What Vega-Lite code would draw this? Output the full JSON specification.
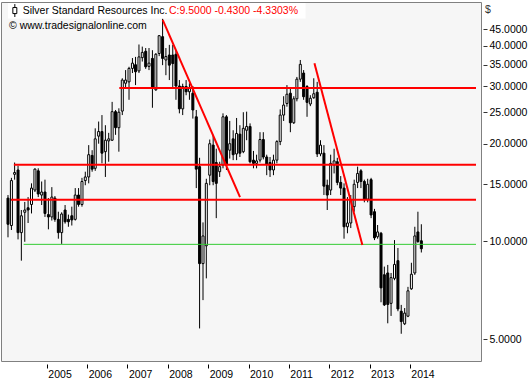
{
  "$schema": "https://vega.github.io/schema/vega-lite/v6.json",
  "width": 480,
  "height": 359,
  "autosize": {"type": "none"},
  "padding": {"left": 1, "top": 2, "right": 49, "bottom": 18},
  "background": "#ffffff",
  "config": {"view": {"fill": "#f6f6f6", "stroke": "#808080", "strokeWidth": 1}},
  "datasets": {
    "ohlc": [
      {"date": "2004-01-15", "open": 13.6, "high": 13.9, "low": 10.3, "close": 11.3},
      {"date": "2004-02-15", "open": 11.2, "high": 15.7, "low": 10.85, "close": 15.4},
      {"date": "2004-03-15", "open": 16.1, "high": 17.5, "low": 15.5, "close": 16.3},
      {"date": "2004-04-15", "open": 16.6, "high": 17.1, "low": 10.15, "close": 10.65},
      {"date": "2004-05-15", "open": 10.65, "high": 12.5, "low": 8.73, "close": 12.0},
      {"date": "2004-06-15", "open": 12.3, "high": 13.24, "low": 9.98, "close": 12.5},
      {"date": "2004-07-15", "open": 12.7, "high": 13.7, "low": 11.4, "close": 12.5},
      {"date": "2004-08-15", "open": 13.0, "high": 15.1, "low": 12.2, "close": 14.6},
      {"date": "2004-09-15", "open": 14.4, "high": 16.8, "low": 14.2, "close": 16.7},
      {"date": "2004-10-15", "open": 16.5, "high": 16.8, "low": 13.7, "close": 14.0},
      {"date": "2004-11-15", "open": 13.9, "high": 15.3, "low": 12.95, "close": 14.2},
      {"date": "2004-12-15", "open": 14.2, "high": 15.5, "low": 11.9, "close": 12.2},
      {"date": "2005-01-15", "open": 12.1, "high": 13.6, "low": 10.9, "close": 11.9},
      {"date": "2005-02-15", "open": 11.9, "high": 14.7, "low": 11.6, "close": 13.7},
      {"date": "2005-03-15", "open": 13.6, "high": 13.8, "low": 11.5, "close": 11.7},
      {"date": "2005-04-15", "open": 11.7, "high": 12.35, "low": 10.2, "close": 10.65},
      {"date": "2005-05-15", "open": 10.65, "high": 12.3, "low": 9.83, "close": 12.15},
      {"date": "2005-06-15", "open": 12.5, "high": 12.95, "low": 11.35, "close": 11.5},
      {"date": "2005-07-15", "open": 11.7, "high": 12.1, "low": 11.1, "close": 11.5},
      {"date": "2005-08-15", "open": 12.0, "high": 12.8, "low": 11.2, "close": 11.65},
      {"date": "2005-09-15", "open": 11.7, "high": 14.6, "low": 11.6, "close": 13.9},
      {"date": "2005-10-15", "open": 13.9, "high": 14.6, "low": 12.8, "close": 13.0},
      {"date": "2005-11-15", "open": 13.0, "high": 15.7, "low": 12.8, "close": 15.3},
      {"date": "2005-12-15", "open": 15.4, "high": 16.4, "low": 14.9, "close": 15.8},
      {"date": "2006-01-15", "open": 15.8, "high": 19.8, "low": 15.1, "close": 18.5},
      {"date": "2006-02-15", "open": 18.4, "high": 19.1, "low": 16.4, "close": 16.7},
      {"date": "2006-03-15", "open": 16.8, "high": 22.3, "low": 16.5, "close": 20.7},
      {"date": "2006-04-15", "open": 21.1, "high": 23.4, "low": 20.0, "close": 21.8},
      {"date": "2006-05-15", "open": 21.8, "high": 24.5, "low": 17.4, "close": 18.7},
      {"date": "2006-06-15", "open": 18.9, "high": 22.8, "low": 15.8, "close": 20.5},
      {"date": "2006-07-15", "open": 20.4, "high": 21.6, "low": 17.6, "close": 20.7},
      {"date": "2006-08-15", "open": 20.5, "high": 26.9, "low": 20.4, "close": 25.1},
      {"date": "2006-09-15", "open": 25.1, "high": 25.4, "low": 21.3, "close": 22.4},
      {"date": "2006-10-15", "open": 22.4, "high": 25.7, "low": 18.9, "close": 25.0},
      {"date": "2006-11-15", "open": 25.2, "high": 31.8, "low": 24.5, "close": 31.4},
      {"date": "2006-12-15", "open": 30.7, "high": 33.7, "low": 29.6, "close": 31.4},
      {"date": "2007-01-15", "open": 31.0, "high": 34.5, "low": 27.3, "close": 34.1},
      {"date": "2007-02-15", "open": 34.1, "high": 36.7, "low": 33.0, "close": 35.4},
      {"date": "2007-03-15", "open": 35.0, "high": 37.0, "low": 30.3, "close": 33.3},
      {"date": "2007-04-15", "open": 33.5, "high": 40.4, "low": 33.0, "close": 37.0},
      {"date": "2007-05-15", "open": 36.8, "high": 39.8, "low": 35.8, "close": 38.2},
      {"date": "2007-06-15", "open": 38.5, "high": 39.4, "low": 34.0, "close": 34.5},
      {"date": "2007-07-15", "open": 34.6, "high": 39.4, "low": 33.7, "close": 35.4},
      {"date": "2007-08-15", "open": 36.6, "high": 38.8, "low": 25.8, "close": 29.6},
      {"date": "2007-09-15", "open": 29.3, "high": 38.0, "low": 29.1, "close": 37.7},
      {"date": "2007-10-15", "open": 37.9, "high": 43.2, "low": 37.2, "close": 43.0},
      {"date": "2007-11-15", "open": 42.7, "high": 48.5, "low": 34.9, "close": 36.6},
      {"date": "2007-12-15", "open": 36.2, "high": 39.4, "low": 32.5, "close": 37.1},
      {"date": "2008-01-15", "open": 37.5, "high": 40.3, "low": 31.4, "close": 34.9},
      {"date": "2008-02-15", "open": 37.5, "high": 40.3, "low": 29.9, "close": 35.3},
      {"date": "2008-03-15", "open": 37.7, "high": 38.8, "low": 27.3, "close": 30.1},
      {"date": "2008-04-15", "open": 30.1, "high": 31.4, "low": 24.8, "close": 25.6},
      {"date": "2008-05-15", "open": 25.6, "high": 30.6, "low": 24.5, "close": 30.0},
      {"date": "2008-06-15", "open": 30.0, "high": 31.4, "low": 28.2, "close": 28.9},
      {"date": "2008-07-15", "open": 28.9, "high": 30.7, "low": 27.3, "close": 29.6},
      {"date": "2008-08-15", "open": 28.6, "high": 30.1, "low": 23.9, "close": 25.4},
      {"date": "2008-09-15", "open": 24.2, "high": 25.4, "low": 14.6, "close": 16.7},
      {"date": "2008-10-15", "open": 17.0, "high": 18.1, "low": 5.4, "close": 8.55},
      {"date": "2008-11-15", "open": 8.55, "high": 11.45, "low": 6.6, "close": 10.4},
      {"date": "2008-12-15", "open": 9.7, "high": 15.6, "low": 7.7, "close": 15.1},
      {"date": "2009-01-15", "open": 16.0, "high": 20.6, "low": 14.9, "close": 20.0},
      {"date": "2009-02-15", "open": 19.8, "high": 21.3, "low": 14.9, "close": 15.3},
      {"date": "2009-03-15", "open": 17.5, "high": 19.3, "low": 11.8, "close": 15.1},
      {"date": "2009-04-15", "open": 16.4, "high": 17.6, "low": 15.8, "close": 17.0},
      {"date": "2009-05-15", "open": 17.2, "high": 24.8, "low": 16.8, "close": 24.2},
      {"date": "2009-06-15", "open": 24.2, "high": 24.5, "low": 16.6, "close": 17.2},
      {"date": "2009-07-15", "open": 19.1, "high": 23.5, "low": 18.0, "close": 20.0},
      {"date": "2009-08-15", "open": 20.7, "high": 22.0, "low": 17.8, "close": 18.5},
      {"date": "2009-09-15", "open": 18.6, "high": 24.0, "low": 17.8, "close": 21.5},
      {"date": "2009-10-15", "open": 21.4, "high": 22.8, "low": 18.2, "close": 18.7},
      {"date": "2009-11-15", "open": 18.9, "high": 25.0, "low": 18.7, "close": 22.3},
      {"date": "2009-12-15", "open": 22.0, "high": 25.1, "low": 20.5, "close": 22.6},
      {"date": "2010-01-15", "open": 22.6, "high": 23.1, "low": 17.4, "close": 17.6},
      {"date": "2010-02-15", "open": 17.8, "high": 19.0, "low": 16.8, "close": 17.4},
      {"date": "2010-03-15", "open": 17.4, "high": 18.5, "low": 16.8, "close": 17.7},
      {"date": "2010-04-15", "open": 17.8, "high": 21.7, "low": 17.5, "close": 20.6},
      {"date": "2010-05-15", "open": 20.6, "high": 21.7, "low": 17.9, "close": 18.2},
      {"date": "2010-06-15", "open": 18.2, "high": 18.5, "low": 16.0, "close": 17.3},
      {"date": "2010-07-15", "open": 17.5, "high": 18.2, "low": 15.8, "close": 16.6},
      {"date": "2010-08-15", "open": 16.6, "high": 18.5, "low": 16.0, "close": 17.8},
      {"date": "2010-09-15", "open": 17.8, "high": 20.5, "low": 17.4, "close": 20.3},
      {"date": "2010-10-15", "open": 20.3, "high": 25.5, "low": 19.8, "close": 24.5},
      {"date": "2010-11-15", "open": 24.5, "high": 28.0, "low": 23.5, "close": 26.3},
      {"date": "2010-12-15", "open": 26.6, "high": 30.3, "low": 26.0, "close": 28.4},
      {"date": "2011-01-15", "open": 28.6, "high": 29.7, "low": 21.7, "close": 23.2},
      {"date": "2011-02-15", "open": 23.2, "high": 28.0, "low": 23.0, "close": 27.5},
      {"date": "2011-03-15", "open": 27.5, "high": 32.1, "low": 27.0, "close": 31.6},
      {"date": "2011-04-15", "open": 31.6, "high": 36.2, "low": 31.0, "close": 35.1},
      {"date": "2011-05-15", "open": 33.0, "high": 33.7, "low": 27.3, "close": 27.9},
      {"date": "2011-06-15", "open": 30.0, "high": 30.3, "low": 24.2, "close": 26.8},
      {"date": "2011-07-15", "open": 26.5, "high": 28.2, "low": 26.1, "close": 27.6},
      {"date": "2011-08-15", "open": 27.7, "high": 31.8, "low": 27.5, "close": 28.5},
      {"date": "2011-09-15", "open": 28.8, "high": 31.0, "low": 18.2, "close": 18.6},
      {"date": "2011-10-15", "open": 18.6, "high": 20.5, "low": 18.3, "close": 19.8},
      {"date": "2011-11-15", "open": 18.7, "high": 19.8, "low": 13.9, "close": 14.8},
      {"date": "2011-12-15", "open": 14.9, "high": 15.5, "low": 12.5, "close": 13.9},
      {"date": "2012-01-15", "open": 14.4, "high": 18.5, "low": 13.9, "close": 17.4},
      {"date": "2012-02-15", "open": 17.2, "high": 19.3, "low": 16.2, "close": 17.7},
      {"date": "2012-03-15", "open": 17.6, "high": 18.1, "low": 14.9, "close": 15.2},
      {"date": "2012-04-15", "open": 15.2, "high": 15.9, "low": 13.9, "close": 14.6},
      {"date": "2012-05-15", "open": 14.6, "high": 15.1, "low": 10.2, "close": 11.1},
      {"date": "2012-06-15", "open": 11.1, "high": 13.7, "low": 10.6, "close": 11.4},
      {"date": "2012-07-15", "open": 11.4, "high": 13.9, "low": 11.0, "close": 13.4},
      {"date": "2012-08-15", "open": 12.8, "high": 15.5, "low": 12.35, "close": 15.0},
      {"date": "2012-09-15", "open": 15.2, "high": 17.0, "low": 14.6, "close": 16.2},
      {"date": "2012-10-15", "open": 16.5, "high": 16.7, "low": 14.6, "close": 15.3},
      {"date": "2012-11-15", "open": 15.3, "high": 15.5, "low": 13.2, "close": 13.5},
      {"date": "2012-12-15", "open": 13.5, "high": 15.6, "low": 13.2, "close": 15.0},
      {"date": "2013-01-15", "open": 15.5, "high": 15.7, "low": 11.8, "close": 12.07},
      {"date": "2013-02-15", "open": 12.35, "high": 12.6, "low": 10.1, "close": 10.26},
      {"date": "2013-03-15", "open": 10.34, "high": 11.24, "low": 10.2, "close": 10.7},
      {"date": "2013-04-15", "open": 10.6, "high": 10.7, "low": 6.5, "close": 7.2},
      {"date": "2013-05-15", "open": 7.9, "high": 8.37, "low": 6.33, "close": 6.38},
      {"date": "2013-06-15", "open": 8.0, "high": 8.47, "low": 5.6, "close": 6.4},
      {"date": "2013-07-15", "open": 6.45, "high": 8.0, "low": 5.9, "close": 7.74},
      {"date": "2013-08-15", "open": 7.7, "high": 10.1, "low": 7.6, "close": 8.5},
      {"date": "2013-09-15", "open": 8.73, "high": 9.55, "low": 6.1, "close": 6.2},
      {"date": "2013-10-15", "open": 6.1, "high": 6.38, "low": 5.2, "close": 5.67},
      {"date": "2013-11-15", "open": 5.58, "high": 6.24, "low": 5.53, "close": 6.02},
      {"date": "2013-12-15", "open": 5.89, "high": 7.25, "low": 5.85, "close": 7.05},
      {"date": "2014-01-15", "open": 7.15, "high": 8.6, "low": 7.1, "close": 7.93},
      {"date": "2014-02-15", "open": 8.0, "high": 11.1, "low": 7.89, "close": 10.4},
      {"date": "2014-03-15", "open": 10.7, "high": 12.35, "low": 9.9, "close": 10.0},
      {"date": "2014-04-15", "open": 10.05, "high": 11.3, "low": 9.25, "close": 9.5}
    ],
    "resistance": [
      {"price": 29.68, "start": "2006-10-19", "end": "2015-08-23"},
      {"price": 17.23, "start": "2004-03-08", "end": "2015-08-23"},
      {"price": 13.45, "start": "2004-02-11", "end": "2015-08-23"}
    ],
    "support": [
      {"price": 9.8, "start": "2004-06-05", "end": "2015-08-23"}
    ],
    "trend": [
      {"id": 1, "date": "2007-11-16", "price": 48.1},
      {"id": 1, "date": "2009-10-16", "price": 13.7},
      {"id": 2, "date": "2011-08-21", "price": 35.4},
      {"id": 2, "date": "2012-10-28", "price": 9.75}
    ]
  },
  "layer": [
    {
      "data": {"name": "ohlc"},
      "mark": {"type": "rule", "color": "#000000", "strokeWidth": 1},
      "encoding": {
        "x": {
          "field": "date", "type": "temporal", "title": null,
          "scale": {"type": "utc", "domain": [{"year": 2003, "month": 12, "date": 28, "utc": true}, {"year": 2015, "month": 8, "date": 23, "utc": true}], "nice": false},
          "axis": {
            "values": [
              {"year": 2005, "month": 1, "date": 1, "utc": true},
              {"year": 2006, "month": 1, "date": 1, "utc": true},
              {"year": 2007, "month": 1, "date": 1, "utc": true},
              {"year": 2008, "month": 1, "date": 1, "utc": true},
              {"year": 2009, "month": 1, "date": 1, "utc": true},
              {"year": 2010, "month": 1, "date": 1, "utc": true},
              {"year": 2011, "month": 1, "date": 1, "utc": true},
              {"year": 2012, "month": 1, "date": 1, "utc": true},
              {"year": 2013, "month": 1, "date": 1, "utc": true},
              {"year": 2014, "month": 1, "date": 1, "utc": true}
            ],
            "format": "%Y", "title": null, "domain": false, "grid": false,
            "ticks": true, "tickSize": 4, "tickColor": "#000000", "offset": 3,
            "labelAlign": "left", "labelBaseline": "top", "labelPadding": 1, "labelOffset": 1,
            "labelFont": "Liberation Sans", "labelFontSize": 10.5, "labelColor": "#000000",
            "labelFlush": false, "labelOverlap": false
          }
        },
        "y": {
          "field": "low", "type": "quantitative", "title": "$",
          "scale": {"type": "log", "domain": [4.287, 54.6], "nice": false, "zero": false},
          "axis": {
            "orient": "right", "values": [5, 10, 15, 20, 25, 30, 35, 40, 45], "format": ".4f",
            "title": "$", "titleAngle": 0, "titleX": 4.5, "titleY": 7, "titleAlign": "center", "titleBaseline": "middle",
            "titleFont": "Liberation Sans", "titleFontSize": 10.5, "titleFontWeight": "normal", "titleColor": "#333333",
            "domain": false, "grid": false, "tickSize": 4, "tickColor": "#333333", "offset": 2,
            "labelPadding": 2, "labelFont": "Liberation Sans", "labelFontSize": 10.5, "labelColor": "#000000",
            "labelBaseline": "middle", "labelFlush": false, "labelOverlap": false
          }
        },
        "y2": {"field": "high"}
      }
    },
    {
      "data": {"name": "ohlc"},
      "mark": {"type": "bar", "size": 2, "stroke": "#000000", "strokeWidth": 1},
      "encoding": {
        "x": {"field": "date", "type": "temporal", "title": null},
        "y": {"field": "open", "type": "quantitative", "title": "$"},
        "y2": {"field": "close"},
        "fill": {"condition": {"test": "datum.close >= datum.open", "value": "#ffffff"}, "value": "#000000"}
      }
    },
    {
      "data": {"name": "support"},
      "mark": {"type": "rule", "color": "#33cc33", "strokeWidth": 1},
      "encoding": {
        "x": {"field": "start", "type": "temporal", "title": null},
        "x2": {"field": "end"},
        "y": {"field": "price", "type": "quantitative", "title": "$"}
      }
    },
    {
      "data": {"name": "resistance"},
      "mark": {"type": "rule", "color": "#ff0000", "strokeWidth": 2},
      "encoding": {
        "x": {"field": "start", "type": "temporal", "title": null},
        "x2": {"field": "end"},
        "y": {"field": "price", "type": "quantitative", "title": "$"}
      }
    },
    {
      "data": {"name": "trend"},
      "mark": {"type": "line", "color": "#ff0000", "strokeWidth": 2},
      "encoding": {
        "x": {"field": "date", "type": "temporal", "title": null},
        "y": {"field": "price", "type": "quantitative", "title": "$"},
        "detail": {"field": "id", "type": "nominal"}
      }
    },
    {
      "data": {"values": [{}]},
      "mark": {"type": "rect", "fill": "#ffffff"},
      "encoding": {
        "x": {"datum": {"year": 2004, "month": 1, "date": 15, "utc": true}, "type": "temporal", "title": null},
        "x2": {"datum": {"year": 2011, "month": 6, "date": 2, "utc": true}},
        "y": {"datum": 54.2, "type": "quantitative", "title": "$"},
        "y2": {"datum": 48.6}
      }
    },
    {
      "data": {"values": [{}]},
      "mark": {"type": "rule", "color": "#000000", "strokeWidth": 1},
      "encoding": {
        "x": {"datum": {"year": 2004, "month": 3, "date": 17, "utc": true}, "type": "temporal", "title": null},
        "y": {"datum": 53.8, "type": "quantitative", "title": "$"},
        "y2": {"datum": 49.1}
      }
    },
    {
      "data": {"values": [{}]},
      "mark": {"type": "rect", "fill": "#ffffff", "stroke": "#000000", "strokeWidth": 1},
      "encoding": {
        "x": {"datum": {"year": 2004, "month": 2, "date": 28, "utc": true}, "type": "temporal", "title": null},
        "x2": {"datum": {"year": 2004, "month": 4, "date": 4, "utc": true}},
        "y": {"datum": 52.5, "type": "quantitative", "title": "$"},
        "y2": {"datum": 50.3}
      }
    },
    {
      "data": {"values": [{}]},
      "mark": {"type": "text", "align": "left", "baseline": "middle", "font": "Liberation Sans", "fontSize": 10.5, "color": "#000000"},
      "encoding": {
        "x": {"datum": {"year": 2004, "month": 5, "date": 27, "utc": true}, "type": "temporal", "title": null},
        "y": {"datum": 51.2, "type": "quantitative", "title": "$"},
        "text": {"value": "Silver Standard Resources Inc."}
      }
    },
    {
      "data": {"values": [{}]},
      "mark": {"type": "text", "align": "left", "baseline": "middle", "font": "Liberation Sans", "fontSize": 10.5, "color": "#ff0000"},
      "encoding": {
        "x": {"datum": {"year": 2008, "month": 1, "date": 12, "utc": true}, "type": "temporal", "title": null},
        "y": {"datum": 51.2, "type": "quantitative", "title": "$"},
        "text": {"value": "C:9.5000 -0.4300 -4.3303%"}
      }
    },
    {
      "data": {"values": [{}]},
      "mark": {"type": "text", "align": "left", "baseline": "middle", "font": "Liberation Sans", "fontSize": 10.5, "color": "#000000"},
      "encoding": {
        "x": {"datum": {"year": 2004, "month": 1, "date": 24, "utc": true}, "type": "temporal", "title": null},
        "y": {"datum": 46.05, "type": "quantitative", "title": "$"},
        "text": {"value": "© www.tradesignalonline.com"}
      }
    }
  ]
}
